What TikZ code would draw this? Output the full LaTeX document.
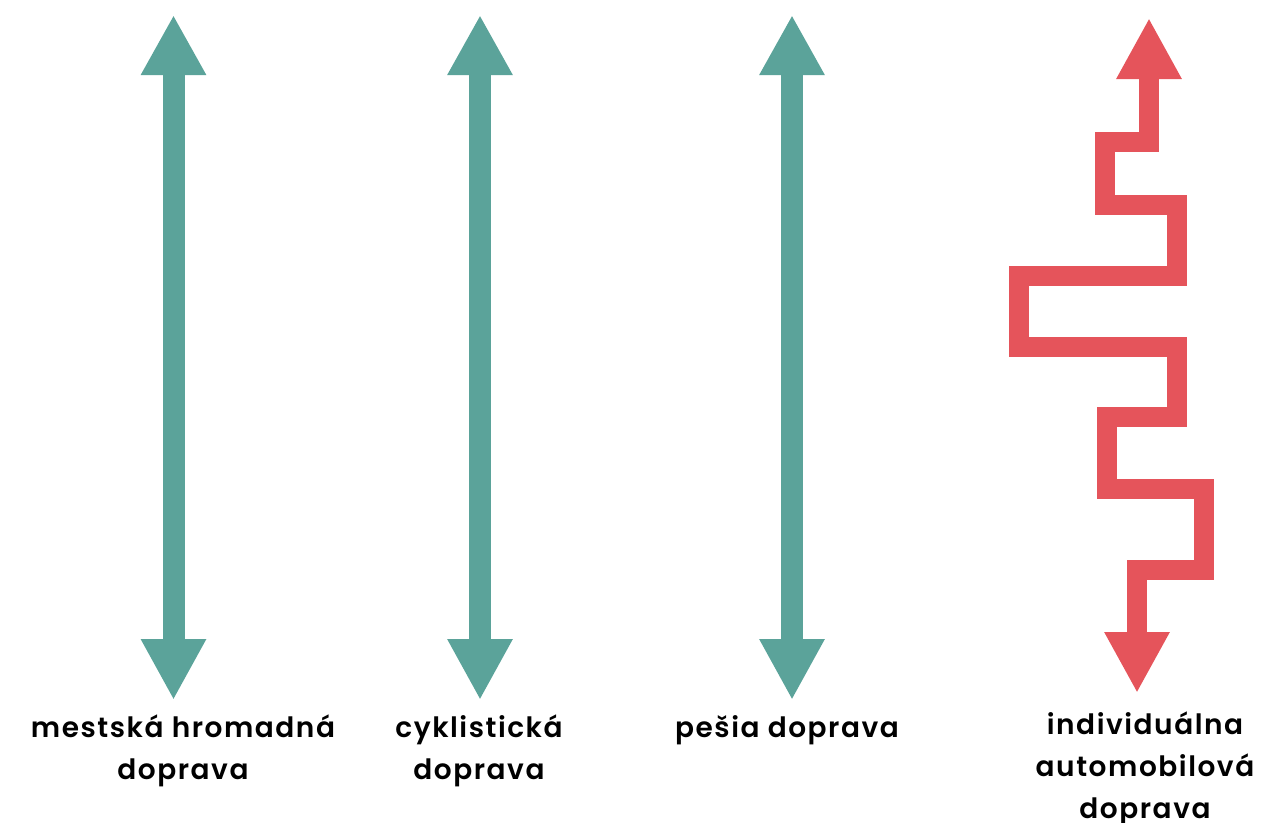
\documentclass[tikz,border=0pt]{standalone}
\usepackage{fontspec}
\setmainfont{Poppins}[LetterSpace=5.5, BoldFont={Poppins SemiBold}]
\usetikzlibrary{arrows.meta}
\definecolor{tealc}{HTML}{5BA39A}
\definecolor{redc}{HTML}{E5545B}
\tikzset{
  tealarrow/.style={draw=tealc, line width=22pt,
    {Triangle[width=61pt,length=61pt]}-{Triangle[width=61pt,length=60pt]}},
  redarrow/.style={draw=redc, line width=20pt, line join=miter,
    {Triangle[width=61pt,length=61pt]}-{Triangle[width=61pt,length=61pt]}},
  lbl/.style={align=center, inner sep=0pt, anchor=base,
    font=\fontsize{28}{42}\selectfont\bfseries}
}
\begin{document}
\begin{tikzpicture}[x=1pt,y=-1pt]
\useasboundingbox (0,0) rectangle (1263,822);
% teal arrows
\coordinate (a1t) at (173.5,15); \coordinate (a1b) at (173.5,700);
\coordinate (a2t) at (480,15);   \coordinate (a2b) at (480,700);
\coordinate (a3t) at (792,15);   \coordinate (a3b) at (792,700);
\draw[tealarrow] (a1b) -- (a1t);
\draw[tealarrow] (a2b) -- (a2t);
\draw[tealarrow] (a3b) -- (a3t);
% red zigzag arrow
\coordinate (rt) at (1149,18);
\coordinate (rb) at (1137,693);
\draw[redarrow] (rt) -- (1149,141.5) -- (1105,141.5) -- (1105,205) -- (1177,205)
  -- (1177,276) -- (1019,276) -- (1019,346.5) -- (1177,346.5) -- (1177,417)
  -- (1106.5,417) -- (1106.5,488.5) -- (1204,488.5) -- (1204,570) -- (1137,570) -- (rb);
% labels (anchor = baseline of last line)
\node[lbl] (l1) at (183,779) {mestská hromadná\\doprava};
\node[lbl] (l2) at (479,779) {cyklistická\\doprava};
\node[lbl] (l3) at (787,737) {pešia doprava};
\node[lbl] (l4) at (1145,818) {individuálna\\automobilová\\doprava};
\end{tikzpicture}
\end{document}
